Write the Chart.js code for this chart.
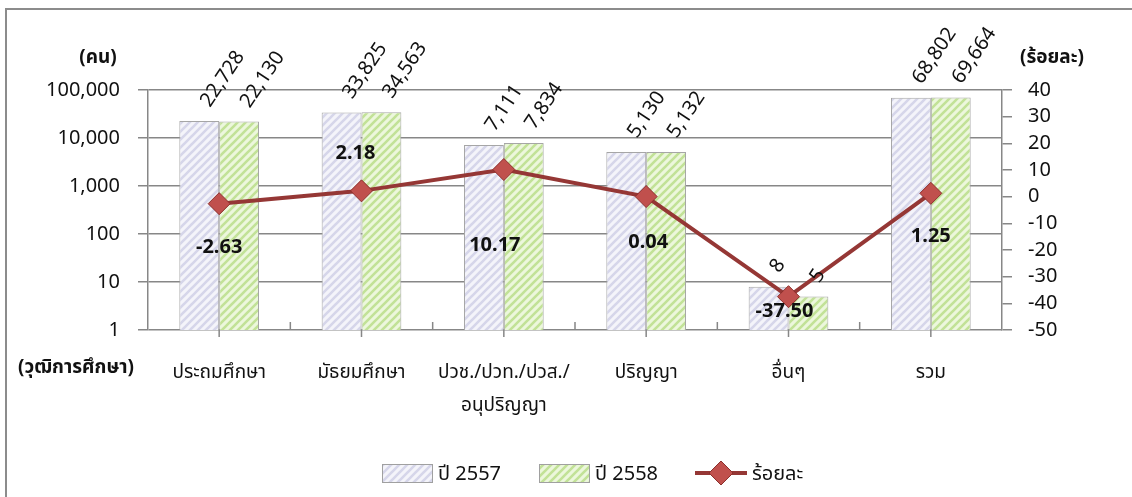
<!DOCTYPE html>
<html><head><meta charset="utf-8">
<script src="https://cdn.jsdelivr.net/npm/chart.js@4.4.0/dist/chart.umd.min.js"></script>
<style>html,body{margin:0;padding:0;background:#fff;overflow:hidden}#wrap{width:1132px;height:497px;position:relative}</style>
</head><body><div id="wrap"><canvas id="c" width="1132" height="497"></canvas></div>
<script>
// ---- data ----
const categories = ['ประถมศึกษา', 'มัธยมศึกษา', ['ปวช./ปวท./ปวส./', 'อนุปริญญา'], 'ปริญญา', 'อื่นๆ', 'รวม'];
const seriesNames = ['ปี 2557', 'ปี 2558', 'ร้อยละ'];
const values2557 = [22728, 33825, 7111, 5130, 8, 68802];
const values2558 = [22130, 34563, 7834, 5132, 5, 69664];
const percentChange = [-2.63, 2.18, 10.17, 0.04, -37.50, 1.25];
const leftTickValues = [1, 10, 100, 1000, 10000, 100000];
const rightTickValues = [40, 30, 20, 10, 0, -10, -20, -30, -40, -50];
const leftTitle = '(คน)';
const rightTitle = '(ร้อยละ)';
const xTitle = '(วุฒิการศึกษา)';

// ---- styles ----
const FONT = "'Noto Sans', 'Noto Sans Thai', Tahoma, sans-serif";
const lineLabelDx = [0, -6, -9, 2, -4, 0];
const lineLabelDy = [44, -38, 76, 46, 15, 43];

function makePattern(bg, fg) {
  const s = 8, c = document.createElement('canvas');
  c.width = s; c.height = s;
  const x = c.getContext('2d');
  x.fillStyle = bg; x.fillRect(0, 0, s, s);
  x.strokeStyle = fg; x.lineWidth = 2.6;
  x.beginPath();
  x.moveTo(-2, s + 2); x.lineTo(s + 2, -2);
  x.moveTo(-s / 2 - 2, s / 2 + 2); x.lineTo(s / 2 + 2, -s / 2 - 2);
  x.moveTo(s / 2 - 2, s * 1.5 + 2); x.lineTo(s * 1.5 + 2, s / 2 - 2);
  x.stroke();
  return document.getElementById('c').getContext('2d').createPattern(c, 'repeat');
}
const purplePat = makePattern('#f4f4fa', '#d6d6ea');
const greenPat = makePattern('#ecf7dc', '#c2e297');

const GRID = '#878787';

const extras = {
  id: 'extras',
  beforeDraw(chart) {
    const ctx = chart.ctx;
    ctx.save();
    ctx.fillStyle = '#fff';
    ctx.fillRect(0, 0, chart.width, chart.height);
    ctx.strokeStyle = '#8c8c8c'; ctx.lineWidth = 2;
    ctx.beginPath();
    ctx.moveTo(6, chart.height + 5); ctx.lineTo(6, 9); ctx.lineTo(chart.width + 5, 9);
    ctx.stroke();
    ctx.restore();
  },
  afterDatasetsDraw(chart) {
    const ctx = chart.ctx;
    ctx.save();
    // bar value labels (rotated)
    ctx.fillStyle = '#111';
    ctx.font = '20px ' + FONT;
    ctx.textAlign = 'left'; ctx.textBaseline = 'middle';
    [0, 1].forEach(d => {
      const meta = chart.getDatasetMeta(d);
      const vals = chart.data.datasets[d].data;
      meta.data.forEach((el, i) => {
        ctx.save();
        ctx.translate(el.x + 6, el.y - 16);
        ctx.rotate(-Math.PI * 56 / 180);
        ctx.fillText(vals[i].toLocaleString('en-US'), 0, 0);
        ctx.restore();
      });
    });
    // line labels
    const lm = chart.getDatasetMeta(2);
    ctx.font = 'bold 20px ' + FONT;
    ctx.textAlign = 'center';
    lm.data.forEach((pt, i) => {
      ctx.fillText(percentChange[i].toFixed(2), pt.x + lineLabelDx[i], pt.y + lineLabelDy[i]);
    });
    ctx.restore();
  },
  afterDraw(chart) {
    const ctx = chart.ctx;
    const xs = chart.scales.x;
    const ca = chart.chartArea;
    ctx.save();
    // x axis small tick marks
    ctx.strokeStyle = GRID; ctx.lineWidth = 1.5;
    ctx.beginPath();
    for (let i = 0; i < categories.length; i++) {
      const cx = xs.getPixelForValue(i);
      ctx.moveTo(cx, ca.bottom); ctx.lineTo(cx, ca.bottom + 7);
      if (i < categories.length - 1) {
        const bx = (cx + xs.getPixelForValue(i + 1)) / 2;
        ctx.moveTo(bx, ca.bottom); ctx.lineTo(bx, ca.bottom - 8);
      }
    }
    ctx.stroke();
    // titles
    ctx.fillStyle = '#111';
    ctx.font = 'bold 19px ' + FONT;
    ctx.textAlign = 'center'; ctx.textBaseline = 'middle';
    ctx.fillText(leftTitle, 98, 58);
    ctx.fillText(rightTitle, 1052, 58);
    ctx.fillText(xTitle, 76, 368);
    // legend
    ctx.font = '20px ' + FONT;
    ctx.textAlign = 'left';
    const ly = 473;
    const items = [
      { x: 382, pat: purplePat, text: seriesNames[0] },
      { x: 539, pat: greenPat, text: seriesNames[1] }
    ];
    items.forEach(it => {
      ctx.fillStyle = it.pat;
      ctx.fillRect(it.x, ly - 9, 51, 19);
      ctx.strokeStyle = '#a0a0a0'; ctx.lineWidth = 1;
      ctx.strokeRect(it.x + 0.5, ly - 8.5, 50, 18);
      ctx.fillStyle = '#111';
      ctx.fillText(it.text, it.x + 56, ly + 1);
    });
    ctx.strokeStyle = '#953735'; ctx.lineWidth = 4;
    ctx.beginPath(); ctx.moveTo(695, ly); ctx.lineTo(747, ly); ctx.stroke();
    ctx.fillStyle = '#c0504d'; ctx.strokeStyle = '#8c2f2c'; ctx.lineWidth = 1;
    ctx.beginPath(); ctx.moveTo(721, ly - 12); ctx.lineTo(733, ly); ctx.lineTo(721, ly + 12); ctx.lineTo(709, ly); ctx.closePath();
    ctx.fill(); ctx.stroke();
    ctx.fillStyle = '#111';
    ctx.fillText(seriesNames[2], 752, ly + 1);
    ctx.restore();
  }
};

new Chart(document.getElementById('c'), {
  data: {
    labels: categories,
    datasets: [
      { type: 'bar', label: seriesNames[0], data: values2557, yAxisID: 'y', backgroundColor: purplePat, borderColor: '#a6a6a6', borderWidth: 1, categoryPercentage: 0.56, barPercentage: 1.0, order: 2 },
      { type: 'bar', label: seriesNames[1], data: values2558, yAxisID: 'y', backgroundColor: greenPat, borderColor: '#a6a6a6', borderWidth: 1, categoryPercentage: 0.56, barPercentage: 1.0, order: 2 },
      { type: 'line', label: seriesNames[2], data: percentChange, yAxisID: 'y2', borderColor: '#953735', borderWidth: 4, pointStyle: 'rectRot', pointRadius: 11, pointHoverRadius: 11, pointBackgroundColor: '#c0504d', pointBorderColor: '#8c2f2c', pointBorderWidth: 1, tension: 0, order: 0 }
    ]
  },
  options: {
    responsive: false,
    animation: false,
    events: [],
    layout: { padding: { top: 90, left: 0, right: 0, bottom: 0 } },
    plugins: { legend: { display: false }, tooltip: { enabled: false } },
    scales: {
      x: {
        type: 'category', offset: true,
        grid: { display: false },
        border: { display: false },
        ticks: { color: '#111', font: { family: FONT, size: 19, lineHeight: 1.75 }, padding: 18, maxRotation: 0, autoSkip: false },
        afterFit(s) { s.height = 167; }
      },
      y: {
        type: 'logarithmic', position: 'left', min: 1, max: 100000,
        afterBuildTicks(s) { s.ticks = leftTickValues.map(v => ({ value: v })); },
        ticks: { color: '#111', font: { family: FONT, size: 20 }, padding: 18, autoSkip: false, callback: v => Number(v).toLocaleString('en-US') },
        grid: { color: GRID, lineWidth: 1.5, tickLength: 10, drawTicks: true },
        border: { color: GRID, width: 1.5 },
        afterFit(s) { s.width = 148; }
      },
      y2: {
        type: 'linear', position: 'right', min: -50, max: 40,
        afterBuildTicks(s) { s.ticks = rightTickValues.map(v => ({ value: v })); },
        ticks: { color: '#111', font: { family: FONT, size: 20 }, padding: 16, autoSkip: false, callback: v => String(v) },
        grid: { drawOnChartArea: false, color: GRID, lineWidth: 1.5, tickLength: 10 },
        border: { color: GRID, width: 1.5 },
        afterFit(s) { s.width = 130; }
      }
    }
  },
  plugins: [extras]
});
</script>
</body></html>
